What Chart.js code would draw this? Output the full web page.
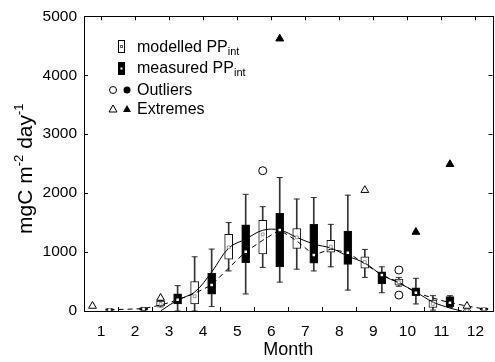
<!DOCTYPE html>
<html>
<head>
<meta charset="utf-8">
<script src="https://cdn.jsdelivr.net/npm/chart.js@4.4.1/dist/chart.umd.min.js"></script>
<style>
  html, body { margin: 0; padding: 0; background: #fff; overflow: hidden; }
  #wrap { position: relative; width: 498px; height: 362px; }
</style>
</head>
<body>
<div id="wrap"><canvas id="myChart"></canvas></div>
<script>
const FONT = '"Liberation Sans", Arial, sans-serif';

const months = ['1', '2', '3', '4', '5', '6', '7', '8', '9', '10', '11', '12'];

// modelled PPint, box per month (null = no box)
const modLow  = [null, null,  70,   0,  680,  740,  710,  750,  570, 420,  15,  0];
const modQ1   = [null, null,  85, 120,  880,  970, 1060, 1000,  725, 440,  60,  0];
const modMed  = [null, null, 120, 250, 1080, 1300, 1250, 1090,  830, 490, 120,  8];
const modQ3   = [null, null, 170, 500, 1300, 1540, 1400, 1200,  920, 540, 185, 15];
const modHigh = [null, null, 180, 920, 1500, 1770, 1900, 1470, 1045, 570, 260, 20];

// measured PPint
const meaLow  = [ 0, 10,   0,   75,  290,  490,  680,  355, 310, 120,  60,  0];
const meaQ1   = [10, 20, 120,  285,  820,  750,  810,  790, 460, 260,  75, 15];
const meaMed  = [20, 35, 190,  440, 1005, 1375,  950,  990, 610, 310, 140, 30];
const meaQ3   = [35, 55, 290,  640, 1460, 1655, 1470, 1355, 665, 395, 245, 45];
const meaHigh = [40, 60, 430, 1050, 1980, 2265, 1925, 1965, 750, 555, 260, 50];

const modOutMonth = [6, 10, 10];
const modOutValue = [2380, 695, 270];
const modExtMonth = [1, 3, 9, 12];
const modExtValue = [85, 220, 2050, 85];
const meaExtMonth = [6, 10, 11];
const meaExtValue = [4620, 1340, 2490];

// smoothed lines (x in month units, 0 = start of January)
const modLineX = [2.25, 2.75, 3.25, 3.75, 4.25, 4.75, 5.25, 5.75, 6.25, 6.75, 7.25, 7.75, 8.25, 8.75, 9.25, 9.75, 10.25, 10.75, 11.1];
const modLineY = [0, 186, 320, 660, 1068, 1220, 1370, 1375, 1250, 1135, 1068, 930, 813, 610, 475, 322, 152, 50, 0];
const meaLineX = [0.75, 1.75, 2.25, 2.75, 3.25, 3.75, 4.25, 4.75, 5.25, 5.75, 6.25, 6.75, 7.25, 7.75, 8.25, 8.75, 9.25, 9.75, 10.25, 10.75, 11.25, 11.75];
const meaLineY = [20, 40, 100, 186, 300, 440, 730, 1005, 1200, 1375, 1190, 950, 1050, 990, 800, 610, 490, 310, 220, 140, 85, 35];

const MOD_OFF = 0.25, MEA_OFF = 0.75;

function pts(arrA, arrB, off) {
  const out = [];
  arrA.forEach((a, i) => {
    if (a === null) return;
    out.push({ x: i + off, y: arrB ? [a, arrB[i]] : a });
  });
  return out;
}

function boxSets(low, q1, med, q3, high, off, fill, medStyle) {
  const caps = pts(low, null, off).concat(pts(high, null, off));
  return [
    { type: 'bar', data: pts(low, high, off), grouped: false, barThickness: 1,
      backgroundColor: '#333', borderWidth: 0, order: 5 },
    { type: 'scatter', data: caps, pointStyle: 'line', pointRadius: 3,
      borderColor: '#333', borderWidth: 1, order: 4 },
    { type: 'bar', data: pts(q1, q3, off), grouped: false, barThickness: 8,
      backgroundColor: fill, borderColor: '#111', borderWidth: 1, borderSkipped: false, order: 3 },
    Object.assign({ type: 'scatter', data: pts(med, null, off), pointStyle: 'rect', order: 1 }, medStyle)
  ];
}

function scatterFrom(monthsArr, values, off, style) {
  return Object.assign({ type: 'scatter', order: 0,
    data: monthsArr.map((m, i) => ({ x: m - 1 + off, y: values[i] })) }, style);
}

const datasets = [].concat(
  boxSets(modLow, modQ1, modMed, modQ3, modHigh, MOD_OFF, '#fff',
    { pointRadius: 2, backgroundColor: '#fff', borderColor: '#666', borderWidth: 0.6 }),
  boxSets(meaLow, meaQ1, meaMed, meaQ3, meaHigh, MEA_OFF, '#000',
    { pointRadius: 1.8, backgroundColor: '#fff', borderWidth: 0 }),
  [
    { type: 'line', data: modLineX.map((x, i) => ({ x: x, y: modLineY[i] })),
      borderColor: '#000', borderWidth: 1, pointRadius: 0, tension: 0.35, order: 2 },
    { type: 'line', data: meaLineX.map((x, i) => ({ x: x, y: meaLineY[i] })),
      borderColor: '#000', borderWidth: 1, borderDash: [5, 4], pointRadius: 0, tension: 0, order: 2 },
    scatterFrom(modOutMonth, modOutValue, MOD_OFF,
      { pointStyle: 'circle', pointRadius: 4, backgroundColor: '#fff', borderColor: '#000', borderWidth: 1 }),
    scatterFrom(modExtMonth, modExtValue, MOD_OFF,
      { pointStyle: 'triangle', pointRadius: 4.5, backgroundColor: '#fff', borderColor: '#000', borderWidth: 1 }),
    scatterFrom(meaExtMonth, meaExtValue, MEA_OFF,
      { pointStyle: 'triangle', pointRadius: 4.5, backgroundColor: '#000', borderColor: '#000', borderWidth: 1 })
  ]
);

// frame + inward ticks, y title with superscripts, legend
const decor = {
  id: 'decor',
  afterDraw(chart) {
    const ctx = chart.ctx;
    const a = chart.chartArea;
    const xs = chart.scales.x, ys = chart.scales.y;
    ctx.save();
    ctx.strokeStyle = '#000';
    ctx.lineWidth = 1;
    ctx.strokeRect(Math.round(a.left) + 0.5, Math.round(a.top) + 0.5,
      Math.round(a.right - a.left), Math.round(a.bottom - a.top));
    ctx.beginPath();
    for (let k = 1; k < 12; k++) {
      const x = Math.round(xs.getPixelForValue(k)) + 0.5;
      ctx.moveTo(x, a.bottom); ctx.lineTo(x, a.bottom - 4);
    }
    for (let k = 0; k < 12; k++) {
      const x = Math.round(xs.getPixelForValue(k + 0.5)) + 0.5;
      ctx.moveTo(x, a.top); ctx.lineTo(x, a.top + 4);
    }
    for (let v = 1000; v < 5000; v += 1000) {
      const y = Math.round(ys.getPixelForValue(v)) + 0.5;
      ctx.moveTo(a.left, y); ctx.lineTo(a.left + 4, y);
      ctx.moveTo(a.right, y); ctx.lineTo(a.right - 4, y);
    }
    ctx.stroke();

    // y axis title
    ctx.fillStyle = '#000';
    ctx.textBaseline = 'alphabetic';
    const big = '21px ' + FONT, small = '13px ' + FONT;
    const parts = [['mgC m', big, 0], ['-2', small, -9], [' day', big, 0], ['-1', small, -9]];
    let total = 0;
    parts.forEach(p => { ctx.font = p[1]; total += ctx.measureText(p[0]).width; });
    ctx.translate(32, (a.top + a.bottom) / 2 + 5);
    ctx.rotate(-Math.PI / 2);
    let cx = -total / 2;
    parts.forEach(p => { ctx.font = p[1]; ctx.fillText(p[0], cx, p[2]); cx += ctx.measureText(p[0]).width; });
    ctx.setTransform(1, 0, 0, 1, 0, 0);

    // legend
    const tx = 137;
    function label(text, sub, y) {
      ctx.font = '16px ' + FONT;
      ctx.fillText(text, tx, y);
      if (sub) {
        const w = ctx.measureText(text).width;
        ctx.font = '11px ' + FONT;
        ctx.fillText(sub, tx + w, y + 3);
      }
    }
    ctx.lineWidth = 1;
    ctx.fillStyle = '#fff';
    ctx.fillRect(118.5, 40.5, 6, 12);
    ctx.strokeRect(118.5, 40.5, 6, 12);
    ctx.strokeStyle = '#666';
    ctx.strokeRect(120.5, 45.5, 2, 2);
    ctx.strokeStyle = '#000';
    ctx.fillStyle = '#000';
    ctx.fillRect(118, 62, 7, 13);
    ctx.fillStyle = '#fff';
    ctx.fillRect(120.5, 67.5, 2, 2);
    ctx.fillStyle = '#000';
    label('modelled PP', 'int', 52);
    label('measured PP', 'int', 73);
    label('Outliers', null, 95);
    label('Extremes', null, 114);
    ctx.beginPath(); ctx.arc(113, 90, 3.5, 0, Math.PI * 2); ctx.stroke();
    ctx.beginPath(); ctx.arc(127, 90, 3.5, 0, Math.PI * 2); ctx.fill();
    function tri(x, y, filled) {
      ctx.beginPath(); ctx.moveTo(x, y - 4); ctx.lineTo(x + 4, y + 3); ctx.lineTo(x - 4, y + 3); ctx.closePath();
      filled ? ctx.fill() : ctx.stroke();
    }
    tri(113, 109, false);
    tri(127, 109, true);
    ctx.restore();
  }
};

const ctx = document.getElementById('myChart');

new Chart(ctx, {
  type: 'bar',
  data: { datasets: datasets },
  options: {
    responsive: true,
    maintainAspectRatio: false,
    animation: false,
    layout: { padding: 0 },
    plugins: { legend: { display: false }, tooltip: { enabled: false } },
    scales: {
      x: {
        type: 'linear', min: 0, max: 12, offset: false,
        afterBuildTicks: s => { s.ticks = months.map((m, i) => ({ value: i + 0.5 })); },
        afterFit: s => { s.height = 51; },
        grid: { display: false, drawTicks: false, offset: false },
        border: { display: false },
        ticks: {
          autoSkip: false, maxRotation: 0, padding: 11, color: '#000',
          font: { family: FONT, size: 15.5 },
          callback: (v, i) => months[i]
        },
        title: { display: true, text: 'Month', color: '#000', font: { family: FONT, size: 18 }, padding: { top: 0, bottom: 1 } }
      },
      y: {
        type: 'linear', min: 0, max: 5000,
        afterFit: s => { s.width = 84; },
        grid: { display: false, drawTicks: false },
        border: { display: false },
        ticks: { stepSize: 1000, padding: 7, color: '#000', font: { family: FONT, size: 15.5 },
          callback: v => String(v) }
      }
    }
  },
  plugins: [decor]
});
</script>
</body>
</html>
